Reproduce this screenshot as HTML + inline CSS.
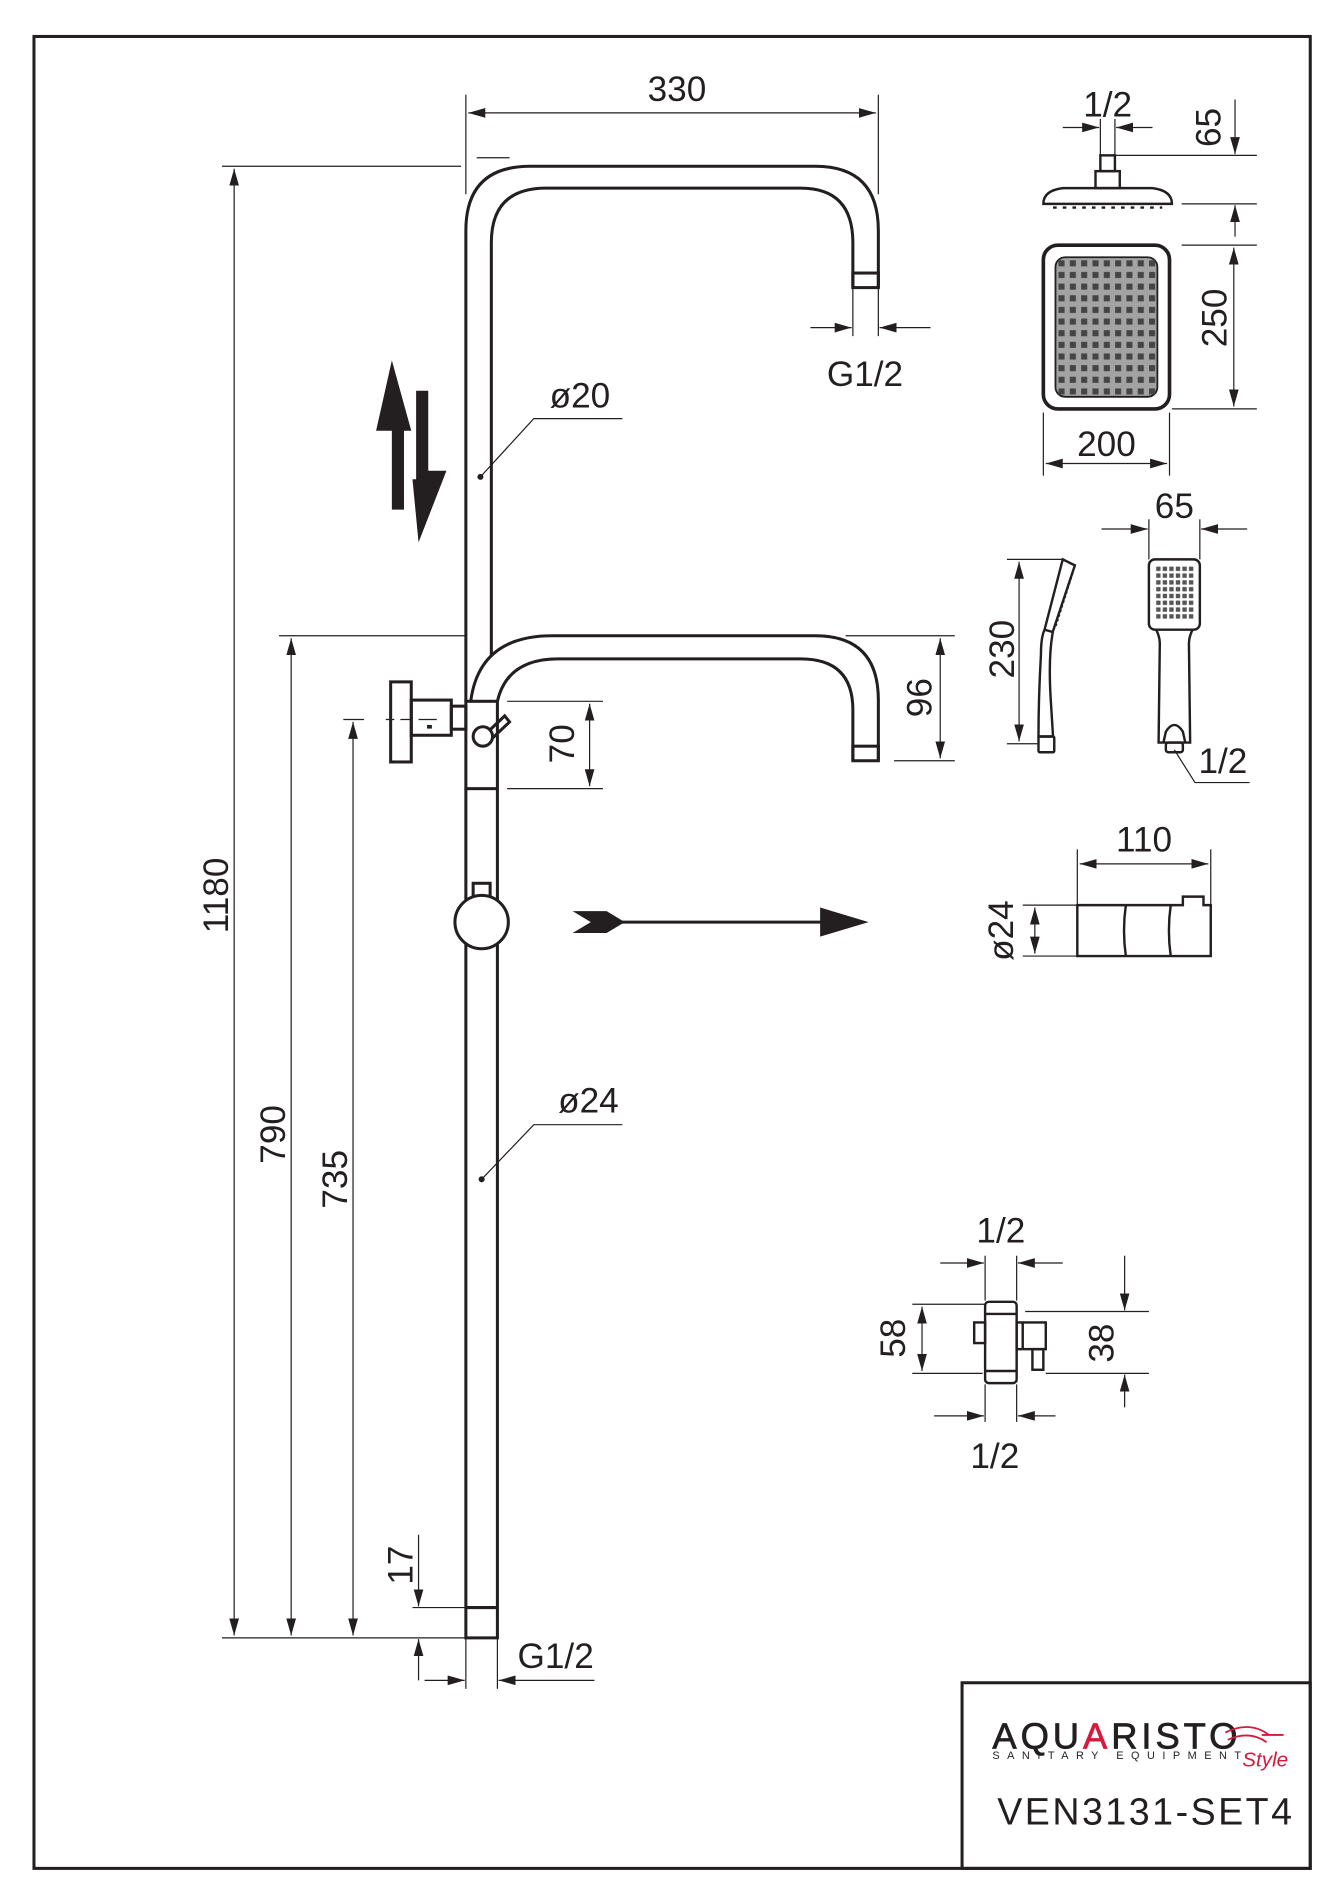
<!DOCTYPE html>
<html><head><meta charset="utf-8"><style>
html,body{margin:0;padding:0;background:#fff;}
svg{display:block;}
text{font-family:"Liberation Sans",Arial,sans-serif;fill:#231f20;}
</style></head><body>
<svg width="1343" height="1900" viewBox="0 0 1107 1566" xmlns="http://www.w3.org/2000/svg">
<defs>
<marker id="a" viewBox="0 0 14 8" refX="14" refY="4" markerWidth="14" markerHeight="8" markerUnits="userSpaceOnUse" orient="auto-start-reverse"><path d="M0,0 L14,4 L0,8 Z" fill="#231f20"/></marker>
<pattern id="g9" x="870" y="212" width="9.33" height="9.6" patternUnits="userSpaceOnUse"><rect x="2.5" y="2.5" width="5" height="5" fill="#444"/></pattern>
<pattern id="g6" x="952" y="466" width="5.4" height="5.6" patternUnits="userSpaceOnUse"><rect x="1" y="1" width="3.6" height="3.6" fill="#555"/></pattern>
</defs>
<g fill="none" stroke="#231f20" stroke-width="1">
<rect x="28" y="30" width="1052" height="1510" stroke-width="2.5"/>
<rect x="793" y="1387" width="287" height="153" stroke-width="2.5"/>

<g stroke-width="2.5">
<path d="M384,578 L384,190 Q384,137 437,137 L672,137 Q724,137 724,190 L724,237"/>
<path d="M405,540 L405,200 Q405,155 450,155 L660,155 Q703,155 703,200 L703,237"/>
<rect x="703" y="225" width="21" height="12"/>
<path d="M388,578 Q395,524 455,524 L672,524 Q724,524 724,577 L724,627"/>
<path d="M410,578 Q418,543 460,543 L660,543 Q703,543 703,585 L703,627"/>
<rect x="703" y="615" width="21" height="12"/>
<rect x="384" y="578" width="26" height="72"/>
<path d="M395,610 L416,590 L420,595 L401,613"/>
<circle cx="398" cy="607" r="8" fill="#fff"/>
<rect x="372" y="582" width="12" height="19"/>
<rect x="339" y="577" width="33" height="29"/>
<rect x="322" y="562" width="17" height="66"/>
<path d="M384,650 L384,1350 L410,1350 L410,650"/>
<line x1="384" y1="1325" x2="410" y2="1325"/>
<rect x="390" y="728" width="14" height="12"/>
<circle cx="397" cy="760" r="22" fill="#fff"/>
</g>
<line x1="352" y1="599" x2="356" y2="599" stroke-width="3"/>
<path d="M283,593 L300,593 M318,593 L325,593 M330,593 L340,593 M345,593 L360,593" />

<line x1="384" y1="78" x2="384" y2="160"/><line x1="724" y1="78" x2="724" y2="160"/>
<line x1="393" y1="130" x2="420" y2="130"/>
<line x1="386" y1="93" x2="722" y2="93" marker-start="url(#a)" marker-end="url(#a)"/>
<line x1="183" y1="137" x2="380" y2="137"/><line x1="183" y1="1350" x2="384" y2="1350"/>
<line x1="193" y1="139" x2="193" y2="1348" marker-start="url(#a)" marker-end="url(#a)"/>
<line x1="230" y1="524" x2="385" y2="524"/>
<line x1="240" y1="526" x2="240" y2="1348" marker-start="url(#a)" marker-end="url(#a)"/>
<line x1="291" y1="595" x2="291" y2="1348" marker-start="url(#a)" marker-end="url(#a)"/>
<line x1="340" y1="1325" x2="384" y2="1325"/>
<line x1="345" y1="1265" x2="345" y2="1324" marker-end="url(#a)"/>
<line x1="345" y1="1385" x2="345" y2="1351" marker-end="url(#a)"/>
<line x1="384" y1="1350" x2="384" y2="1392"/><line x1="410" y1="1350" x2="410" y2="1392"/>
<line x1="350" y1="1385" x2="383" y2="1385" marker-end="url(#a)"/>
<line x1="490" y1="1385" x2="411" y2="1385" marker-end="url(#a)"/>
<line x1="703" y1="237" x2="703" y2="277"/><line x1="724" y1="237" x2="724" y2="277"/>
<line x1="668" y1="270" x2="702" y2="270" marker-end="url(#a)"/>
<line x1="767" y1="270" x2="725" y2="270" marker-end="url(#a)"/>
<line x1="418" y1="578" x2="497" y2="578"/><line x1="418" y1="650" x2="497" y2="650"/>
<line x1="486" y1="580" x2="486" y2="648" marker-start="url(#a)" marker-end="url(#a)"/>
<line x1="697" y1="524" x2="787" y2="524"/><line x1="737" y1="627" x2="787" y2="627"/>
<line x1="775" y1="526" x2="775" y2="625" marker-start="url(#a)" marker-end="url(#a)"/>
<path d="M396,393 L440,345 L513,345"/><circle cx="396" cy="393" r="2" fill="#231f20"/>
<path d="M397,972 L440,927 L513,927"/><circle cx="397" cy="972" r="2" fill="#231f20"/>

<path d="M323,297 L339,355 L333,355 L333,420 L323,420 L323,355 L310,355 Z" fill="#231f20" stroke="none"/>
<path d="M343,322 L353,322 L353,388 L368,388 L345,447 L340,395 L343,395 Z" fill="#231f20" stroke="none"/>
<line x1="500" y1="760" x2="680" y2="760" stroke-width="2.5"/>
<path d="M472,751 L500,751 L515,760 L500,769 L472,769 L487,760 Z" fill="#231f20" stroke="none"/>
<path d="M676,748 L716,760 L676,772 Z" fill="#231f20" stroke="none"/>

<g stroke-width="2">
<rect x="907" y="128" width="12" height="13"/>
<rect x="903" y="141" width="20" height="14"/>
<path d="M860,168 Q860,157 876,155 L950,155 Q966,157 966,168 Z"/>
</g>
<path d="M868,171 L958,171" stroke-dasharray="3,5" stroke-width="2"/>
<line x1="907" y1="98" x2="907" y2="128"/><line x1="919" y1="98" x2="919" y2="128"/>
<line x1="876" y1="105" x2="906" y2="105" marker-end="url(#a)"/>
<line x1="950" y1="105" x2="920" y2="105" marker-end="url(#a)"/>
<line x1="919" y1="128" x2="1036" y2="128"/><line x1="974" y1="168" x2="1036" y2="168"/>
<line x1="1018" y1="82" x2="1018" y2="127" marker-end="url(#a)"/>
<line x1="1018" y1="195" x2="1018" y2="169" marker-end="url(#a)"/>
<rect x="860" y="202" width="104" height="135" rx="12" stroke-width="3"/>
<rect x="870" y="212" width="84" height="115" rx="8" fill="#a3a3a3" stroke-width="1.5"/>
<rect x="870" y="212" width="84" height="115" fill="url(#g9)" stroke="none"/>
<line x1="974" y1="202" x2="1036" y2="202"/><line x1="966" y1="337" x2="1036" y2="337"/>
<line x1="1017" y1="204" x2="1017" y2="335" marker-start="url(#a)" marker-end="url(#a)"/>
<line x1="860" y1="340" x2="860" y2="392"/><line x1="964" y1="340" x2="964" y2="392"/>
<line x1="862" y1="382" x2="962" y2="382" marker-start="url(#a)" marker-end="url(#a)"/>

<g stroke-width="2">
<path d="M876,461 L886,466 L868,520 Q864,540 866,575 L868,607 L856,607 Q856,575 858,540 Q858,525 861,519 Z"/>
<line x1="861" y1="519" x2="868" y2="521"/>
<rect x="856" y="607" width="13" height="13" rx="1"/>
</g>
<path d="M884,472 L870,516" stroke-dasharray="2,2" stroke-width="2"/>
<line x1="830" y1="461" x2="875" y2="461"/><line x1="830" y1="613" x2="855" y2="613"/>
<line x1="840" y1="463" x2="840" y2="611" marker-start="url(#a)" marker-end="url(#a)"/>
<g stroke-width="2">
<rect x="947" y="461" width="42" height="58" rx="5"/>
<path d="M953,519 Q956,525 956,530 L955,612 L981,612 L980,530 Q980,525 983,519"/>
<path d="M959,612 L961,603 Q968,592 975,603 L977,612"/>
<rect x="961" y="612" width="14" height="8" rx="2"/>
</g>
<rect x="952" y="466" width="33" height="45" fill="url(#g6)" stroke="none"/>
<line x1="947" y1="428" x2="947" y2="461"/><line x1="989" y1="428" x2="989" y2="461"/>
<line x1="908" y1="436" x2="946" y2="436" marker-end="url(#a)"/>
<line x1="1028" y1="436" x2="990" y2="436" marker-end="url(#a)"/>
<path d="M968,618 L985,645 L1030,645"/>

<g stroke-width="2">
<path d="M888,746 L975,746 L975,739 L992,739 L992,746 L998,746 L998,788 L888,788 Z"/>
<path d="M928,746 Q925,767 928,788 M965,746 Q962,767 965,788"/>
</g>
<line x1="888" y1="700" x2="888" y2="745"/><line x1="998" y1="700" x2="998" y2="745"/>
<line x1="890" y1="712" x2="996" y2="712" marker-start="url(#a)" marker-end="url(#a)"/>
<line x1="843" y1="746" x2="888" y2="746"/><line x1="843" y1="788" x2="888" y2="788"/>
<line x1="853" y1="748" x2="853" y2="786" marker-start="url(#a)" marker-end="url(#a)"/>

<g stroke-width="2">
<rect x="812" y="1073" width="26" height="67" rx="3"/>
<line x1="812" y1="1083" x2="838" y2="1083"/><line x1="812" y1="1130" x2="838" y2="1130"/>
<rect x="803" y="1090" width="9" height="17"/>
<rect x="838" y="1090" width="24" height="22"/>
<line x1="843" y1="1090" x2="843" y2="1112"/>
<rect x="851" y="1112" width="9" height="17"/>
</g>
<line x1="812" y1="1035" x2="812" y2="1072"/><line x1="838" y1="1035" x2="838" y2="1072"/>
<line x1="775" y1="1041" x2="811" y2="1041" marker-end="url(#a)"/>
<line x1="876" y1="1041" x2="839" y2="1041" marker-end="url(#a)"/>
<line x1="812" y1="1141" x2="812" y2="1172"/><line x1="838" y1="1141" x2="838" y2="1172"/>
<line x1="770" y1="1167" x2="811" y2="1167" marker-end="url(#a)"/>
<line x1="870" y1="1167" x2="839" y2="1167" marker-end="url(#a)"/>
<line x1="752" y1="1075" x2="812" y2="1075"/><line x1="752" y1="1132" x2="810" y2="1132"/>
<line x1="760" y1="1077" x2="760" y2="1130" marker-start="url(#a)" marker-end="url(#a)"/>
<line x1="845" y1="1081" x2="947" y2="1081"/><line x1="862" y1="1132" x2="947" y2="1132"/>
<line x1="927" y1="1035" x2="927" y2="1080" marker-end="url(#a)"/>
<line x1="927" y1="1160" x2="927" y2="1133" marker-end="url(#a)"/>
</g>

<g font-size="29">
<text x="558" y="83" text-anchor="middle">330</text>
<text x="713" y="318" text-anchor="middle">G1/2</text>
<text x="458" y="1375" text-anchor="middle">G1/2</text>
<text x="478" y="336" text-anchor="middle">ø20</text>
<text x="485" y="917" text-anchor="middle">ø24</text>
<text x="913" y="96" text-anchor="middle">1/2</text>
<text x="912" y="376" text-anchor="middle">200</text>
<text x="968" y="427" text-anchor="middle">65</text>
<text x="1008" y="637" text-anchor="middle">1/2</text>
<text x="943" y="702" text-anchor="middle">110</text>
<text x="825" y="1024" text-anchor="middle">1/2</text>
<text x="820" y="1210" text-anchor="middle">1/2</text>
<text transform="translate(188,738) rotate(-90)" text-anchor="middle">1180</text>
<text transform="translate(235,935) rotate(-90)" text-anchor="middle">790</text>
<text transform="translate(286,972) rotate(-90)" text-anchor="middle">735</text>
<text transform="translate(340,1290) rotate(-90)" text-anchor="middle">17</text>
<text transform="translate(473,613) rotate(-90)" text-anchor="middle">70</text>
<text transform="translate(768,575) rotate(-90)" text-anchor="middle">96</text>
<text transform="translate(1006,105) rotate(-90)" text-anchor="middle">65</text>
<text transform="translate(1011,262) rotate(-90)" text-anchor="middle">250</text>
<text transform="translate(836,535) rotate(-90)" text-anchor="middle">230</text>
<text transform="translate(835,767) rotate(-90)" text-anchor="middle">ø24</text>
<text transform="translate(746,1103) rotate(-90)" text-anchor="middle">58</text>
<text transform="translate(918,1107) rotate(-90)" text-anchor="middle">38</text>
</g>
<text x="818" y="1441" font-size="30" textLength="202" lengthAdjust="spacing" stroke="#231f20" stroke-width="0.6">AQU<tspan fill="#d7193c" stroke="#d7193c">A</tspan>RISTO</text>
<text x="818" y="1450" font-size="9" textLength="205" lengthAdjust="spacing">SANITARY EQUIPMENT</text>
<text x="1024" y="1456" font-size="17" font-style="italic" style="fill:#d7193c" font-family="Liberation Serif, serif">Style</text>
<path d="M1010,1428 Q1030,1418 1046,1430 M1012,1434 Q1030,1426 1044,1436 M1040,1430 L1058,1430" stroke="#d7193c" fill="none" stroke-width="1.5"/>
<text x="822" y="1504" font-size="31" textLength="243" lengthAdjust="spacing">VEN3131-SET4</text>
</svg>
</body></html>
